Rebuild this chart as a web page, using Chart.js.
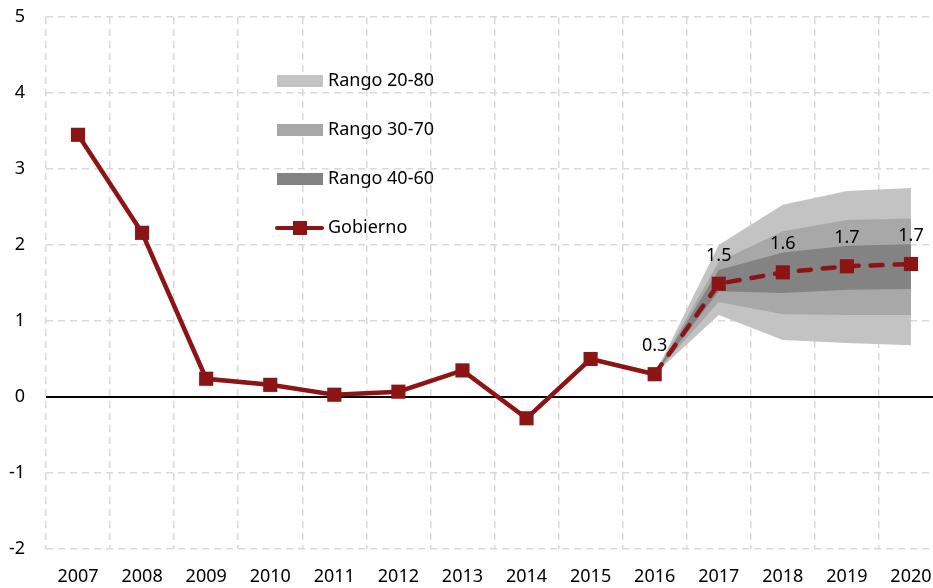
<!DOCTYPE html>
<html>
<head>
<meta charset="utf-8">
<script src="https://cdn.jsdelivr.net/npm/chart.js@4.4.1/dist/chart.umd.min.js"></script>
<style>
  html, body { margin: 0; padding: 0; overflow: hidden; background: #fff; }
</style>
</head>
<body>
<canvas id="myChart" width="953" height="588"></canvas>
<script>
// datos
const anios = ['2007', '2008', '2009', '2010', '2011', '2012', '2013', '2014', '2015', '2016', '2017', '2018', '2019', '2020'];
const gobierno = [3.45, 2.16, 0.24, 0.16, 0.03, 0.07, 0.35, -0.28, 0.50, 0.30, 1.49, 1.64, 1.72, 1.75];
const etiquetas = [null, null, null, null, null, null, null, null, null, '0.3', '1.5', '1.6', '1.7', '1.7'];

// bandas del abanico (desde 2016)
const sup80 = [null, null, null, null, null, null, null, null, null, 0.30, 2.00, 2.53, 2.71, 2.75];
const inf20 = [null, null, null, null, null, null, null, null, null, 0.30, 1.08, 0.75, 0.71, 0.68];
const sup70 = [null, null, null, null, null, null, null, null, null, 0.30, 1.78, 2.18, 2.33, 2.35];
const inf30 = [null, null, null, null, null, null, null, null, null, 0.30, 1.25, 1.09, 1.08, 1.08];
const sup60 = [null, null, null, null, null, null, null, null, null, 0.30, 1.67, 1.90, 1.99, 2.01];
const inf40 = [null, null, null, null, null, null, null, null, null, 0.30, 1.39, 1.37, 1.41, 1.42];

const rojo = '#8C1414';
const gris80 = '#c3c3c3';
const gris70 = '#a8a8a8';
const gris60 = '#838383';

Chart.defaults.font.family = '"Noto Sans", "Open Sans", sans-serif';
Chart.defaults.font.size = 18;
Chart.defaults.color = '#000';

// leyenda dentro del area del grafico
const leyenda = {
    id: 'leyenda',
    afterDraw(chart) {
        const ctx = chart.ctx;
        ctx.save();
        ctx.font = '18px "Noto Sans", "Open Sans", sans-serif';
        ctx.textBaseline = 'middle';
        ctx.fillStyle = '#000';
        const filas = [
            { texto: 'Rango 20-80', color: gris80, y: 81 },
            { texto: 'Rango 30-70', color: gris70, y: 130 },
            { texto: 'Rango 40-60', color: gris60, y: 179 },
        ];
        filas.forEach(f => {
            ctx.fillStyle = f.color;
            ctx.fillRect(277, f.y - 6, 46, 12);
            ctx.fillStyle = '#000';
            ctx.fillText(f.texto, 328, f.y);
        });
        // Gobierno
        ctx.strokeStyle = rojo;
        ctx.lineWidth = 4;
        ctx.lineCap = 'round';
        ctx.beginPath();
        ctx.moveTo(277, 228);
        ctx.lineTo(322, 228);
        ctx.stroke();
        ctx.fillStyle = rojo;
        ctx.fillRect(293, 221, 14, 14);
        ctx.fillStyle = '#000';
        ctx.fillText('Gobierno', 328, 228);
        ctx.restore();
    }
};

// etiquetas de valores de la proyeccion
const valores = {
    id: 'valores',
    afterDatasetsDraw(chart) {
        const ctx = chart.ctx;
        const x = chart.scales.x;
        const y = chart.scales.y;
        ctx.save();
        ctx.font = '18px "Noto Sans", "Open Sans", sans-serif';
        ctx.textAlign = 'center';
        ctx.textBaseline = 'middle';
        ctx.fillStyle = '#000';
        etiquetas.forEach((t, i) => {
            if (!t) return;
            ctx.fillText(t, x.getPixelForValue(i), y.getPixelForValue(gobierno[i]) - 28);
        });
        ctx.restore();
    }
};

const banda = (label, data, color, fill, order) => ({
    label: label,
    data: data,
    borderWidth: 0,
    borderColor: 'rgba(0,0,0,0)',
    backgroundColor: color,
    pointRadius: 0,
    fill: fill,
    order: order,
    tension: 0
});

const ctx = document.getElementById('myChart').getContext('2d');
const myChart = new Chart(ctx, {
    type: 'line',
    data: {
        labels: anios,
        datasets: [
            banda('Rango 20-80', sup80, gris80, 1, 3),
            banda('inf20', inf20, gris80, false, 3),
            banda('Rango 30-70', sup70, gris70, 3, 2),
            banda('inf30', inf30, gris70, false, 2),
            banda('Rango 40-60', sup60, gris60, 5, 1),
            banda('inf40', inf40, gris60, false, 1),
            {
                label: 'Gobierno',
                data: gobierno,
                borderColor: rojo,
                backgroundColor: rojo,
                borderWidth: 4.5,
                borderCapStyle: 'round',
                pointStyle: 'rect',
                pointRadius: 10,
                pointBorderWidth: 0,
                fill: false,
                order: 0,
                segment: {
                    borderDash: c => c.p0DataIndex >= 9 ? [12, 12] : undefined
                }
            }
        ]
    },
    options: {
        responsive: false,
        animation: false,
        layout: { padding: { top: 17, right: 0, bottom: 0, left: 0 } },
        plugins: {
            legend: { display: false },
            tooltip: { enabled: false }
        },
        scales: {
            x: {
                offset: true,
                afterFit: s => { s.height = 39; },
                grid: {
                    offset: true,
                    color: '#d9d9d9',
                    lineWidth: 1.5,
                    drawTicks: false
                },
                border: { display: false, dash: [7, 5] },
                ticks: { padding: 17, maxRotation: 0, autoSkip: false }
            },
            y: {
                min: -2,
                max: 5,
                afterFit: s => { s.width = 46; s.paddingTop = 0; s.paddingBottom = 0; },
                ticks: { stepSize: 1, padding: 21 },
                grid: {
                    color: c => c.tick && c.tick.value === 0 ? '#000' : '#d9d9d9',
                    lineWidth: c => c.tick && c.tick.value === 0 ? 2 : 1.5,
                    drawTicks: false
                },
                border: {
                    display: false,
                    dash: c => c.tick && c.tick.value === 0 ? [] : [7, 5]
                }
            }
        }
    },
    plugins: [leyenda, valores]
});
</script>
</body>
</html>
